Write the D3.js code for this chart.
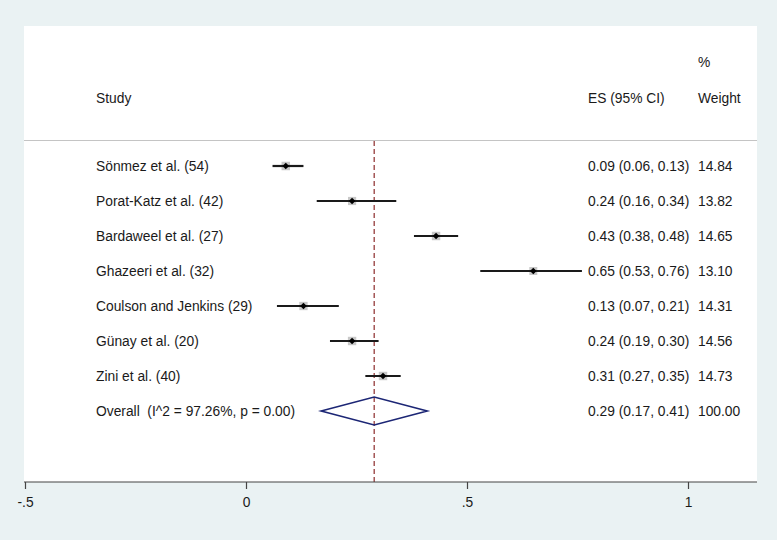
<!DOCTYPE html>
<html>
<head>
<meta charset="utf-8">
<script src="https://cdn.jsdelivr.net/npm/d3@7"></script>
<style>
  html, body { margin: 0; padding: 0; background: #eaf2f3; }
  text { font-family: "Liberation Sans", Arial, sans-serif; fill: #1a1a1a; }
</style>
</head>
<body>
<div id="chart"></div>
<script>
// studies, effect sizes and confidence limits
const studies = [
  "Sönmez et al. (54)",
  "Porat-Katz et al. (42)",
  "Bardaweel et al. (27)",
  "Ghazeeri et al. (32)",
  "Coulson and Jenkins (29)",
  "Günay et al. (20)",
  "Zini et al. (40)"
];
const es = [0.09, 0.24, 0.43, 0.65, 0.13, 0.24, 0.31];
const lo = [0.06, 0.16, 0.38, 0.53, 0.07, 0.19, 0.27];
const hi = [0.13, 0.34, 0.48, 0.76, 0.21, 0.30, 0.35];
const weights = [14.84, 13.82, 14.65, 13.10, 14.31, 14.56, 14.73];

const overallLabel = "Overall  (I^2 = 97.26%, p = 0.00)";
const overall = { es: 0.29, lo: 0.17, hi: 0.41, weight: 100.00 };

const xTicks = [-0.5, 0, 0.5, 1];
const xTickLabels = ["-.5", "0", ".5", "1"];

const width = 777, height = 540;
const plot = { left: 24, right: 757, top: 26, bottom: 482 };
const fs = 13.8;

const svg = d3.select("#chart").append("svg")
  .attr("width", width)
  .attr("height", height);

// white plot region
svg.append("rect")
  .attr("x", plot.left).attr("y", plot.top)
  .attr("width", plot.right - plot.left)
  .attr("height", plot.bottom - plot.top)
  .attr("fill", "#ffffff");

const x = d3.scaleLinear().domain([-0.5, 1]).range([25, 688]);

const rows = studies.concat([overallLabel]);
const y = d3.scalePoint().domain(rows).range([166, 411]);

const rows2 = studies.map((s, i) => ({
  name: s, es: es[i], lo: lo[i], hi: hi[i], w: weights[i]
}));

const fmt = d3.format(".2f");

// header
svg.append("text").attr("x", 96).attr("y", 98)
  .attr("dy", "0.35em").attr("font-size", fs).text("Study");
svg.append("text").attr("x", 588).attr("y", 98)
  .attr("dy", "0.35em").attr("font-size", fs).text("ES (95% CI)");
svg.append("text").attr("x", 698).attr("y", 62)
  .attr("dy", "0.35em").attr("font-size", fs).text("%");
svg.append("text").attr("x", 698).attr("y", 98)
  .attr("dy", "0.35em").attr("font-size", fs).text("Weight");

svg.append("line")
  .attr("x1", plot.left).attr("x2", plot.right)
  .attr("y1", 140.5).attr("y2", 140.5)
  .attr("stroke", "#c4c4c4").attr("stroke-width", 1.2);

// overall effect reference line
svg.append("line")
  .attr("x1", x(overall.es)).attr("x2", x(overall.es))
  .attr("y1", 141).attr("y2", plot.bottom)
  .attr("stroke", "#8c2b2b").attr("stroke-width", 1.2)
  .attr("stroke-dasharray", "5,3");

// study rows
const g = svg.append("g");

g.selectAll("rect.box").data(rows2).join("rect")
  .attr("class", "box")
  .attr("x", d => x(d.es) - Math.sqrt(d.w) * 1.1)
  .attr("y", d => y(d.name) - Math.sqrt(d.w) * 1.1)
  .attr("width", d => Math.sqrt(d.w) * 2.2)
  .attr("height", d => Math.sqrt(d.w) * 2.2)
  .attr("fill", "#c8c8c8");

g.selectAll("line.ci").data(rows2).join("line")
  .attr("class", "ci")
  .attr("x1", d => x(d.lo)).attr("x2", d => x(d.hi))
  .attr("y1", d => y(d.name)).attr("y2", d => y(d.name))
  .attr("stroke", "#1a1a1a").attr("stroke-width", 2.2);

g.selectAll("path.pt").data(rows2).join("path")
  .attr("class", "pt")
  .attr("transform", d => `translate(${x(d.es)},${y(d.name)})`)
  .attr("d", d3.symbol(d3.symbolDiamond2, 28))
  .attr("fill", "#000");

g.selectAll("text.name").data(rows2).join("text")
  .attr("class", "name")
  .attr("x", 96).attr("y", d => y(d.name))
  .attr("dy", "0.35em").attr("font-size", fs)
  .text(d => d.name);

g.selectAll("text.est").data(rows2).join("text")
  .attr("class", "est")
  .attr("x", 588).attr("y", d => y(d.name))
  .attr("dy", "0.35em").attr("font-size", fs)
  .text(d => `${fmt(d.es)} (${fmt(d.lo)}, ${fmt(d.hi)})`);

g.selectAll("text.wt").data(rows2).join("text")
  .attr("class", "wt")
  .attr("x", 698).attr("y", d => y(d.name))
  .attr("dy", "0.35em").attr("font-size", fs)
  .text(d => fmt(d.w));

// overall diamond
const yo = y(overallLabel);
svg.append("path")
  .attr("d", `M${x(overall.lo)},${yo} L${x(overall.es)},${yo - 14} L${x(overall.hi)},${yo} L${x(overall.es)},${yo + 14} Z`)
  .attr("fill", "none")
  .attr("stroke", "#1c2675")
  .attr("stroke-width", 1.6);

svg.append("text").attr("x", 96).attr("y", yo)
  .attr("dy", "0.35em").attr("font-size", fs)
  .style("white-space", "pre")
  .text(overallLabel);
svg.append("text").attr("x", 588).attr("y", yo)
  .attr("dy", "0.35em").attr("font-size", fs)
  .text(`${fmt(overall.es)} (${fmt(overall.lo)}, ${fmt(overall.hi)})`);
svg.append("text").attr("x", 698).attr("y", yo)
  .attr("dy", "0.35em").attr("font-size", fs)
  .text(fmt(overall.weight));

// x axis
const axis = svg.append("g")
  .attr("transform", `translate(0,${plot.bottom})`)
  .call(d3.axisBottom(x).tickValues(xTicks)
    .tickFormat((d, i) => xTickLabels[i])
    .tickSize(7).tickSizeOuter(0).tickPadding(8));
axis.select(".domain").remove();
axis.append("line")
  .attr("x1", plot.left).attr("x2", plot.right)
  .attr("y1", 0).attr("y2", 0)
  .attr("stroke", "#444").attr("stroke-width", 1.2);
axis.selectAll(".tick line").attr("stroke", "#444").attr("stroke-width", 1.2);
axis.selectAll(".tick text")
  .attr("font-size", fs)
  .attr("font-family", "Liberation Sans, Arial, sans-serif")
  .attr("fill", "#1a1a1a");
</script>
</body>
</html>
